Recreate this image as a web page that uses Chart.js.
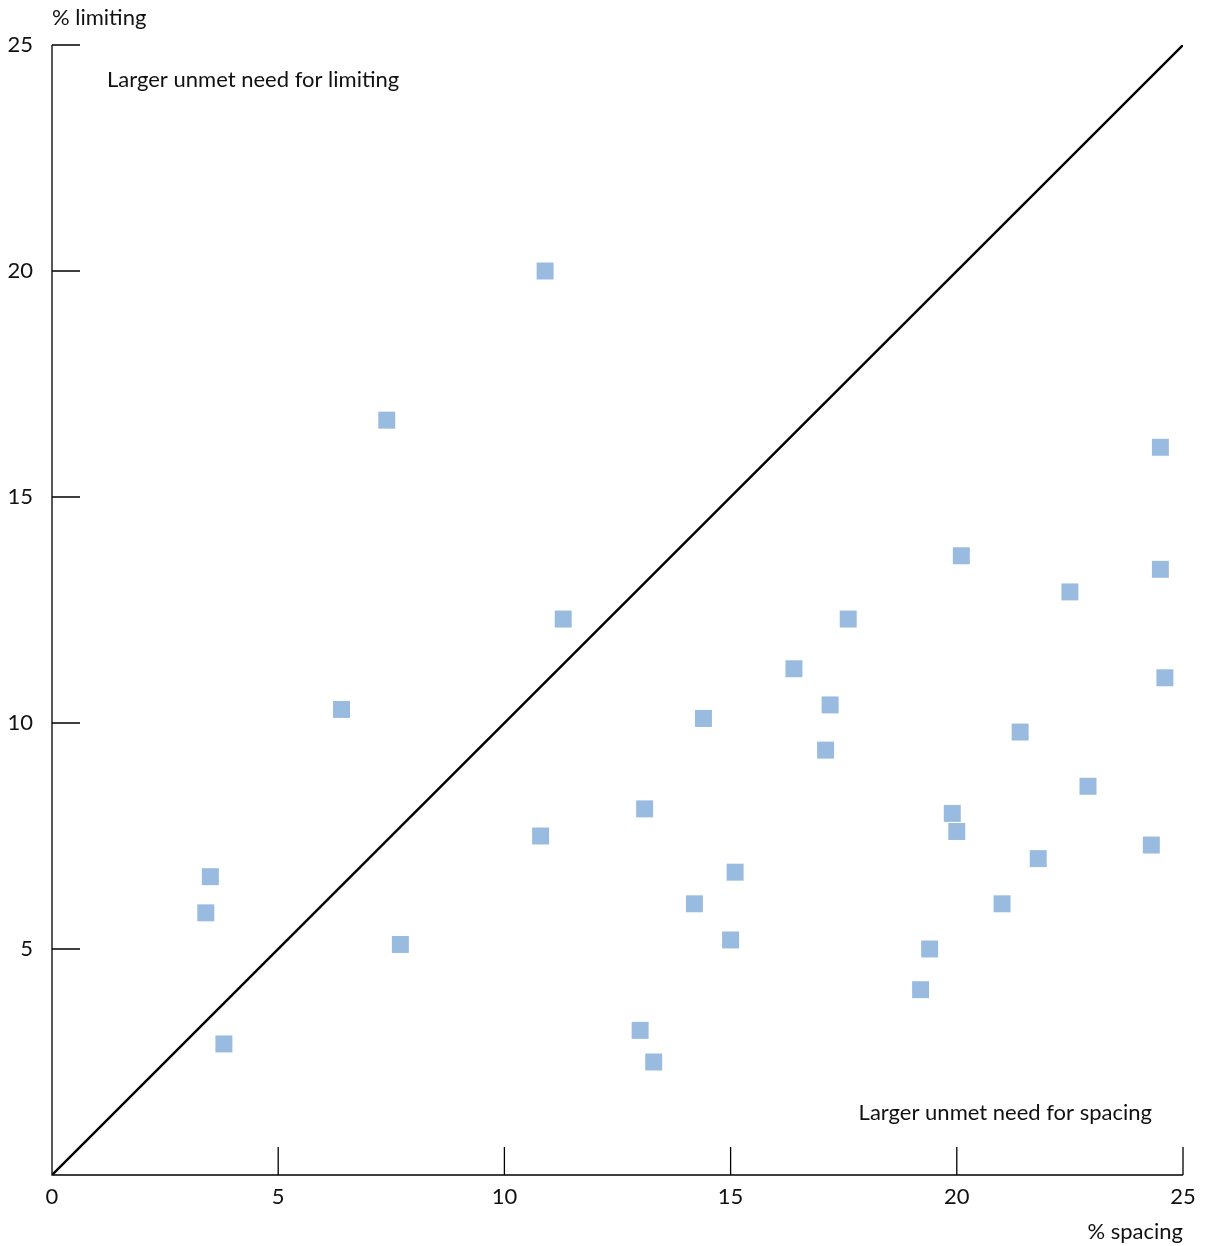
<!DOCTYPE html>
<html><head><meta charset="utf-8">
<script src="https://cdn.jsdelivr.net/npm/chart.js@4"></script>
<style>html,body{margin:0;padding:0;background:#fff}#w{width:1210px;height:1246px}</style>
</head><body><div id="w"><canvas id="c" width="1210" height="1246"></canvas></div>
<script>
const spacing = [10.9,7.4,24.5,20.1,24.5,22.5,11.3,17.6,16.4,24.6,17.2,6.4,14.4,21.4,17.1,22.9,13.1,19.9,10.8,20.0,24.3,21.8,15.1,3.5,3.4,14.2,21.0,7.7,15.0,19.4,19.2,3.8,13.0,13.3];
const limiting = [20.0,16.7,16.1,13.7,13.4,12.9,12.3,12.3,11.2,11.0,10.4,10.3,10.1,9.8,9.4,8.6,8.1,8.0,7.5,7.6,7.3,7.0,6.7,6.6,5.8,6.0,6.0,5.1,5.2,5.0,4.1,2.9,3.2,2.5];
const xTickValues = [0,5,10,15,20,25];
const yTickValues = [5,10,15,20,25];
const FONT = 'Lato';
const points = spacing.map((x,i)=>({x, y: limiting[i]}));

const decor = {
  id:'decor',
  afterDraw(chart){
    const ctx = chart.ctx, xs = chart.scales.x, ys = chart.scales.y;
    ctx.save();
    ctx.strokeStyle = '#000'; ctx.lineWidth = 1.3;
    const x0 = xs.getPixelForValue(0), y0 = ys.getPixelForValue(0);
    ctx.beginPath();
    ctx.moveTo(x0, ys.getPixelForValue(25)); ctx.lineTo(x0, y0); ctx.lineTo(xs.getPixelForValue(25), y0);
    xTickValues.forEach(v=>{
      const px = xs.getPixelForValue(v); ctx.moveTo(px, y0); ctx.lineTo(px, y0-28);
      const py = ys.getPixelForValue(v); ctx.moveTo(x0, py); ctx.lineTo(x0+28, py);
    });
    ctx.stroke();
    ctx.fillStyle = '#111'; ctx.font = '22px ' + FONT; ctx.textBaseline = 'middle';
    ctx.textAlign = 'left';
    ctx.fillText('% limiting', 52, 18);
    ctx.fillText('Larger unmet need for limiting', 107, 80);
    ctx.textAlign = 'right';
    ctx.fillText('Larger unmet need for spacing', 1152, 1113);
    ctx.fillText('% spacing', 1183, 1232);
    ctx.restore();
  }
};

new Chart(document.getElementById('c'), {
  data: {
    datasets: [
      { type:'line', data:[{x:0,y:0},{x:25,y:25}], borderColor:'#000', borderWidth:2.4, pointRadius:0, order:2 },
      { type:'scatter', data: points, pointStyle:'rect', pointRadius:12, backgroundColor:'#99bbe0', borderWidth:0, order:1 }
    ]
  },
  options: {
    responsive:false, animation:false, devicePixelRatio:1,
    layout:{ padding:{ left:0, top:45, right:27, bottom:0 } },
    plugins:{ legend:{display:false}, tooltip:{enabled:false} },
    scales:{
      x:{ type:'linear', min:0, max:25, border:{display:false},
          grid:{display:false, drawTicks:false},
          afterBuildTicks(s){ s.ticks = xTickValues.map(v=>({value:v})); },
          afterFit(s){ s.height = 71; },
          ticks:{ color:'#111', font:{family:FONT, size:22}, padding:9, maxRotation:0 } },
      y:{ type:'linear', min:0, max:25, border:{display:false},
          grid:{display:false, drawTicks:false},
          afterBuildTicks(s){ s.ticks = yTickValues.map(v=>({value:v})); },
          afterFit(s){ s.width = 52; },
          ticks:{ color:'#111', font:{family:FONT, size:22}, padding:19 } }
    }
  },
  plugins:[decor]
});
</script></body></html>
